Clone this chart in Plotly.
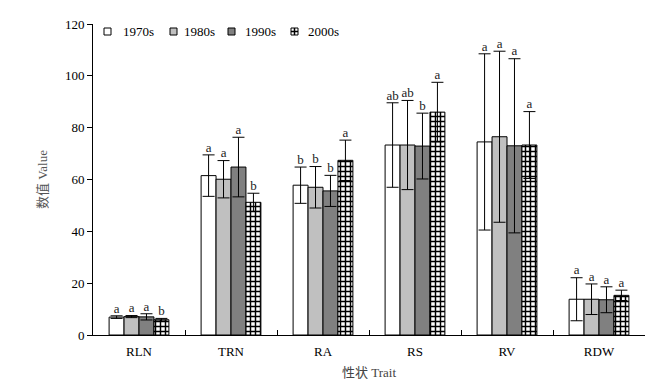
import plotly.graph_objects as go

traits = ["RLN", "TRN", "RA", "RS", "RV", "RDW"]
decades = ["1970s", "1980s", "1990s", "2000s"]

mean_1970s = [6.9, 61.5, 57.8, 73.3, 74.5, 13.8]
mean_1980s = [7.1, 60.1, 57.0, 73.3, 76.5, 13.8]
mean_1990s = [7.0, 64.8, 55.6, 72.9, 73.0, 13.6]
mean_2000s = [5.9, 51.2, 67.4, 86.0, 73.3, 15.3]

err_1970s = [0.5, 8.0, 7.0, 16.3, 34.0, 8.3]
err_1980s = [0.4, 7.2, 8.0, 17.2, 33.0, 5.9]
err_1990s = [1.2, 11.5, 6.0, 12.7, 33.6, 5.0]
err_2000s = [0.5, 3.5, 7.8, 11.5, 12.9, 2.0]

sig_1970s = ["a", "a", "b", "ab", "a", "a"]
sig_1980s = ["a", "a", "b", "ab", "a", "a"]
sig_1990s = ["a", "a", "b", "b", "a", "a"]
sig_2000s = ["b", "b", "a", "a", "a", "a"]

means = [mean_1970s, mean_1980s, mean_1990s, mean_2000s]
errs = [err_1970s, err_1980s, err_1990s, err_2000s]
sigs = [sig_1970s, sig_1980s, sig_1990s, sig_2000s]
fills = ["white", "#c0c0c0", "#808080", "white"]

SERIF = "'Liberation Serif', 'Noto Sans CJK SC', serif"
W, H = 664, 391
ML, MR, MT, MB = 93, 19, 24, 56
PW, PH = W - ML - MR, H - MT - MB

fig = go.Figure()
bargap = 0.35
bw = (1 - bargap) / 4

for j, d in enumerate(decades):
    marker = dict(color=fills[j], line=dict(color="black", width=1))
    if j == 3:
        marker["pattern"] = dict(shape="+", fgcolor="black", bgcolor="white", fgopacity=1,
                                 size=5, solidity=0.5, fillmode="replace")
    fig.add_trace(go.Bar(
        name=d, x=traits, y=means[j], marker=marker, showlegend=False,
        error_y=dict(type="data", array=errs[j], visible=True,
                     color="black", thickness=1, width=6),
    ))
    xs = [i + (j - 1.5) * bw for i in range(len(traits))]
    ys = [m + e for m, e in zip(means[j], errs[j])]
    fig.add_trace(go.Scatter(
        x=xs, y=ys, text=sigs[j], mode="text", textposition="top center",
        textfont=dict(family=SERIF, size=13, color="#222222"),
        xaxis="x2", showlegend=False, hoverinfo="skip",
    ))

# manual legend (pixel layout -> paper coords)
def px(x):
    return (x - ML) / PW

def py(y):
    return (H - MB - y) / PH

leg_box_x = [104, 170, 228, 291]
leg_text_x = [121, 182, 243, 306]
box_top, box_bot, text_y = 28, 35, 31
shapes = []
annotations = []
for j, d in enumerate(decades):
    x0, x1 = leg_box_x[j], leg_box_x[j] + 7
    shapes.append(dict(type="rect", xref="paper", yref="paper",
                       x0=px(x0), x1=px(x1), y0=py(box_bot), y1=py(box_top),
                       fillcolor=fills[j], line=dict(color="black", width=1)))
    if j == 3:
        xm = (x0 + x1) / 2
        ym = (box_top + box_bot) / 2
        shapes.append(dict(type="line", xref="paper", yref="paper",
                           x0=px(xm), x1=px(xm), y0=py(box_bot), y1=py(box_top),
                           line=dict(color="black", width=1.5)))
        shapes.append(dict(type="line", xref="paper", yref="paper",
                           x0=px(x0), x1=px(x1), y0=py(ym), y1=py(ym),
                           line=dict(color="black", width=1.5)))
    annotations.append(dict(text=d, xref="paper", yref="paper", x=px(leg_text_x[j]),
                            y=py(text_y), xanchor="left", yanchor="middle",
                            showarrow=False, font=dict(family=SERIF, size=13, color="black")))

fig.update_layout(
    width=W, height=H,
    margin=dict(l=ML, r=MR, t=MT, b=MB, autoexpand=False),
    paper_bgcolor="white", plot_bgcolor="white",
    barmode="group", bargap=bargap, bargroupgap=0,
    font=dict(family=SERIF, size=13, color="black"),
    showlegend=False,
    shapes=shapes, annotations=annotations,
    xaxis=dict(type="category", range=[-0.5, 5.5], showline=True, linecolor="black",
               linewidth=1, ticks="inside", tickson="boundaries", ticklen=5,
               tickcolor="black", showgrid=False, automargin=False, ticklabelstandoff=4,
               title=dict(text="性状 Trait", font=dict(family=SERIF, size=13, color="#444444"), standoff=10),
               tickfont=dict(family=SERIF, size=13)),
    xaxis2=dict(overlaying="x", range=[-0.5, 5.5], visible=False),
    yaxis=dict(range=[0, 120], dtick=20, showline=True, linecolor="black", linewidth=1,
               ticks="outside", ticklen=5, tickcolor="black", showgrid=False, zeroline=False,
               automargin=False,
               title=dict(text="数值 Value", font=dict(family=SERIF, size=13, color="#555555"), standoff=14),
               tickfont=dict(family=SERIF, size=13)),
)

fig.write_html("out.html", config={"displayModeBar": False},
               post_script="document.body.style.margin='0';")
